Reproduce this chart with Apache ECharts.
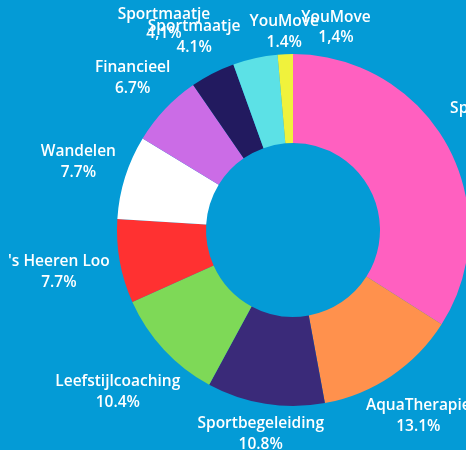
<!DOCTYPE html>
<html>
<head>
<meta charset="utf-8">
<script src="https://cdn.jsdelivr.net/npm/echarts@6/dist/echarts.min.js"></script>
<style>
html,body{margin:0;padding:0;background:#049bd6;}
#chart{width:466px;height:450px;}
</style>
</head>
<body>
<div id="chart"></div>
<script>
// Data (percent shares)
const categories = ['Sportschool', 'AquaTherapie', 'Sportbegeleiding', 'Leefstijlcoaching', "'s Heeren Loo", 'Wandelen', 'Financieel', 'Sportmaatje', 'Sportmaatje', 'YouMove'];
const values = [34.0, 13.1, 10.8, 10.4, 7.7, 7.7, 6.7, 4.1, 4.1, 1.4];
const showLabel = [true, true, true, true, true, true, true, true, false, true];
const colors = ['#ff60c0', '#ff914d', '#3a2a79', '#7ed957', '#ff3131', '#ffffff', '#cb6ce6', '#221a5f', '#5ce1e6', '#f0f23c'];
// Extra duplicated labels seen at the top of the picture
const extraLabels = ['Sportmaatje\n4,1%', 'YouMove\n1,4%'];

const FONT = '"Open Sans", "Noto Sans", sans-serif';
const FS = 15.5;

const chart = echarts.init(document.getElementById('chart'), null, {renderer: 'canvas'});

const data = categories.map((name, i) => ({
  name: name,
  value: values[i],
  itemStyle: {color: colors[i]},
  label: {show: showLabel[i]}
}));

chart.setOption({
  backgroundColor: '#049bd6',
  animation: false,
  series: [{
    type: 'pie',
    center: [293, 230],
    radius: [87, 176],
    startAngle: 90,
    clockwise: true,
    avoidLabelOverlap: false,
    silent: true,
    itemStyle: {borderWidth: 0},
    label: {
      show: true,
      position: 'outside',
      color: '#ffffff',
      fontFamily: FONT,
      fontWeight: 600,
      fontSize: FS,
      lineHeight: 21,
      align: 'center',
      formatter: p => p.name + '\n' + p.value.toFixed(1) + '%'
    },
    labelLine: {show: true, length: 10, length2: 0, lineStyle: {opacity: 0, width: 0}},
    labelLayout: function (params) {
      const pts = params.labelLinePoints;
      if (!pts || pts.length < 2) return {};
      const p0 = pts[0], p1 = pts[1];
      let dx = p1[0] - p0[0], dy = p1[1] - p0[1];
      const len = Math.sqrt(dx * dx + dy * dy) || 1;
      dx /= len; dy /= len;
      const w = params.labelRect.width, h = params.labelRect.height;
      const off = (w / 2) * Math.abs(dx) + (h / 4) * Math.abs(dy);
      return {
        x: p1[0] + dx * off,
        y: p1[1] + dy * off,
        align: 'center',
        verticalAlign: 'middle'
      };
    },
    data: data
  }],
  graphic: [
    {type: 'text', z: 1, x: 164, y: 24, style: {text: extraLabels[0], fill: '#fff', font: '600 ' + FS + 'px ' + FONT, align: 'center', verticalAlign: 'middle', lineHeight: 19}},
    {type: 'text', z: 1, x: 336, y: 28, style: {text: extraLabels[1], fill: '#fff', font: '600 ' + FS + 'px ' + FONT, align: 'center', verticalAlign: 'middle', lineHeight: 20}}
  ]
});
</script>
</body>
</html>
